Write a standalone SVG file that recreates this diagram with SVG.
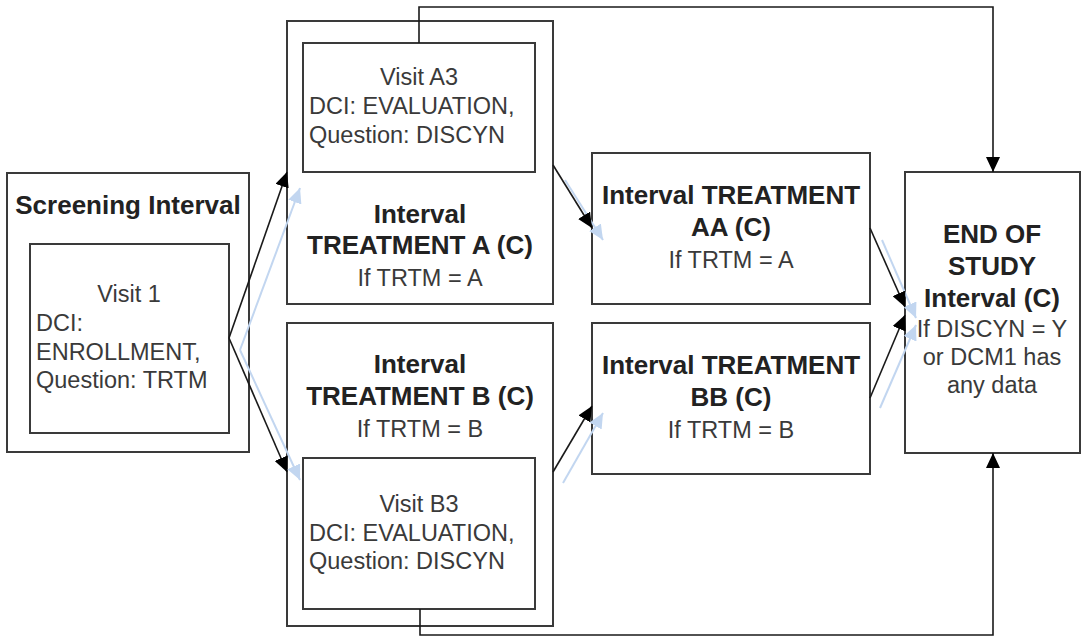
<svg xmlns="http://www.w3.org/2000/svg" width="1082" height="638" viewBox="0 0 1082 638">
<defs>
<style>
.box{fill:#ffffff;stroke:#3a3a3a;stroke-width:2}
.b{font-family:"Liberation Sans",Arial,sans-serif;font-weight:bold;font-size:26px;fill:#222;text-anchor:middle}
.r{font-family:"Liberation Sans",Arial,sans-serif;font-size:23.5px;fill:#3a3a3a}
.c{text-anchor:middle}
.conn{fill:none;stroke:#1a1a1a;stroke-width:1.6}
.shadow{fill:none;stroke:#c2d6f0;stroke-width:2}
</style>
<marker id="arr" markerUnits="userSpaceOnUse" markerWidth="16" markerHeight="14" refX="15" refY="7" orient="auto">
<path d="M0,0 L15,7 L0,14 Z" fill="#000"/>
</marker>
<marker id="arrs" markerUnits="userSpaceOnUse" markerWidth="16" markerHeight="14" refX="15" refY="7" orient="auto">
<path d="M0,0 L15,7 L0,14 Z" fill="#c2d6f0"/>
</marker>
</defs>
<rect width="1082" height="638" fill="#ffffff"/>

<g id="screening">
<rect class="box" x="7" y="173" width="242" height="279"/>
<text class="b" x="128" y="214">Screening Interval</text>
</g>
<g id="visit1">
<rect class="box" x="30" y="244" width="199" height="189"/>
<text class="r c" x="129" y="302">Visit 1</text>
<text class="r" x="36" y="331">DCI:</text>
<text class="r" x="36" y="360">ENROLLMENT,</text>
<text class="r" x="36" y="388">Question: TRTM</text>
</g>

<g id="treatmentA">
<rect class="box" x="287" y="21" width="266" height="283"/>
<text class="b" x="420" y="223">Interval</text>
<text class="b" x="420" y="254">TREATMENT A (C)</text>
<text class="r c" x="420" y="286">If TRTM = A</text>
</g>
<g id="visitA3">
<rect class="box" x="303" y="43" width="232" height="129"/>
<text class="r c" x="419" y="85">Visit A3</text>
<text class="r" x="309" y="114">DCI: EVALUATION,</text>
<text class="r" x="309" y="143">Question: DISCYN</text>
</g>

<g id="treatmentB">
<rect class="box" x="287" y="323" width="266" height="303"/>
<text class="b" x="420" y="373">Interval</text>
<text class="b" x="420" y="405">TREATMENT B (C)</text>
<text class="r c" x="420" y="437">If TRTM = B</text>
</g>
<g id="visitB3">
<rect class="box" x="303" y="458" width="232" height="151"/>
<text class="r c" x="419" y="512">Visit B3</text>
<text class="r" x="309" y="541">DCI: EVALUATION,</text>
<text class="r" x="309" y="569">Question: DISCYN</text>
</g>

<g id="treatmentAA">
<rect class="box" x="592" y="153" width="278" height="151"/>
<text class="b" x="731" y="204">Interval TREATMENT</text>
<text class="b" x="731" y="236">AA (C)</text>
<text class="r c" x="731" y="268">If TRTM = A</text>
</g>

<g id="treatmentBB">
<rect class="box" x="592" y="323" width="278" height="151"/>
<text class="b" x="731" y="374">Interval TREATMENT</text>
<text class="b" x="731" y="406">BB (C)</text>
<text class="r c" x="731" y="438">If TRTM = B</text>
</g>

<g id="endOfStudy">
<rect class="box" x="905" y="172" width="175" height="281"/>
<text class="b" x="992" y="243">END OF</text>
<text class="b" x="992" y="275">STUDY</text>
<text class="b" x="992" y="307">Interval (C)</text>
<text class="r c" x="992" y="337">If DISCYN = Y</text>
<text class="r c" x="992" y="365">or DCM1 has</text>
<text class="r c" x="992" y="393">any data</text>
</g>

<g id="shadows">
<path class="shadow" d="M240,350 L300,188" marker-end="url(#arrs)"/>
<path class="shadow" d="M240,350 L300,480" marker-end="url(#arrs)"/>
<path class="shadow" d="M565,180 L603,240" marker-end="url(#arrs)"/>
<path class="shadow" d="M563,483 L603,413" marker-end="url(#arrs)"/>
<path class="shadow" d="M882,240 L916,318" marker-end="url(#arrs)"/>
<path class="shadow" d="M880,408 L916,325" marker-end="url(#arrs)"/>
</g>

<g id="connectors">
<path class="conn" d="M229,338 L287,172" marker-end="url(#arr)"/>
<path class="conn" d="M229,338 L287,472" marker-end="url(#arr)"/>
<path class="conn" d="M553,165 L592,228" marker-end="url(#arr)"/>
<path class="conn" d="M553,472 L592,406" marker-end="url(#arr)"/>
<path class="conn" d="M870,228 L905,307" marker-end="url(#arr)"/>
<path class="conn" d="M870,398 L905,315" marker-end="url(#arr)"/>
<path class="conn" d="M419,43 V7 H993 V172" marker-end="url(#arr)"/>
<path class="conn" d="M420,609 V635 H993 V453" marker-end="url(#arr)"/>
</g>
</svg>
